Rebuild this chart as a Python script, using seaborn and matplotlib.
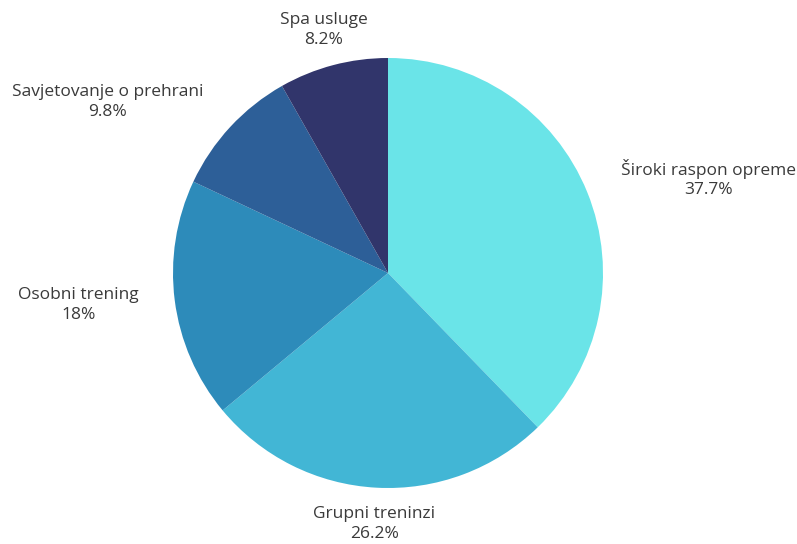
import numpy as np
import seaborn as sns
import matplotlib.pyplot as plt

# podaci
kategorije = ['Široki raspon opreme', 'Grupni treninzi', 'Osobni trening',
              'Savjetovanje o prehrani', 'Spa usluge']
postoci = [37.7, 26.2, 18, 9.8, 8.2]
oznake_postotka = ['37.7%', '26.2%', '18%', '9.8%', '8.2%']
boje = ['#6ae4e8', '#42b6d5', '#2d8bba', '#2d5f98', '#31356b']

sns.set_style('white')
plt.rcParams['font.family'] = ['Open Sans', 'DejaVu Sans']

fig = plt.figure(figsize=(7.97, 5.44), dpi=100)
ax = fig.add_axes([0, 0, 1, 1])

cx, cy, r = 388, 271, 215
wedges, _ = ax.pie(postoci, colors=boje, startangle=90, counterclock=False,
                   center=(cx, cy), radius=r, frame=True,
                   wedgeprops={'linewidth': 0})
ax.set_xlim(0, 797)
ax.set_ylim(0, 544)
ax.set_aspect('equal')
ax.axis('off')

# oznake izvan kruga
for w, ime, pct in zip(wedges, kategorije, oznake_postotka):
    kut = np.deg2rad((w.theta1 + w.theta2) / 2)
    d = 1.17 * r
    x = cx + d * np.cos(kut)
    y = cy + d * np.sin(kut)
    if abs(np.cos(kut)) < 0.3:
        ha = 'center'
    elif np.cos(kut) > 0:
        ha = 'left'
    else:
        ha = 'right'
    ax.text(x, y, ime + '\n' + pct, ha=ha, va='center', multialignment='center',
            fontsize=12.5, color='#3a3a3a', linespacing=1.3)

fig.savefig('out.png', dpi=100, facecolor='white')
